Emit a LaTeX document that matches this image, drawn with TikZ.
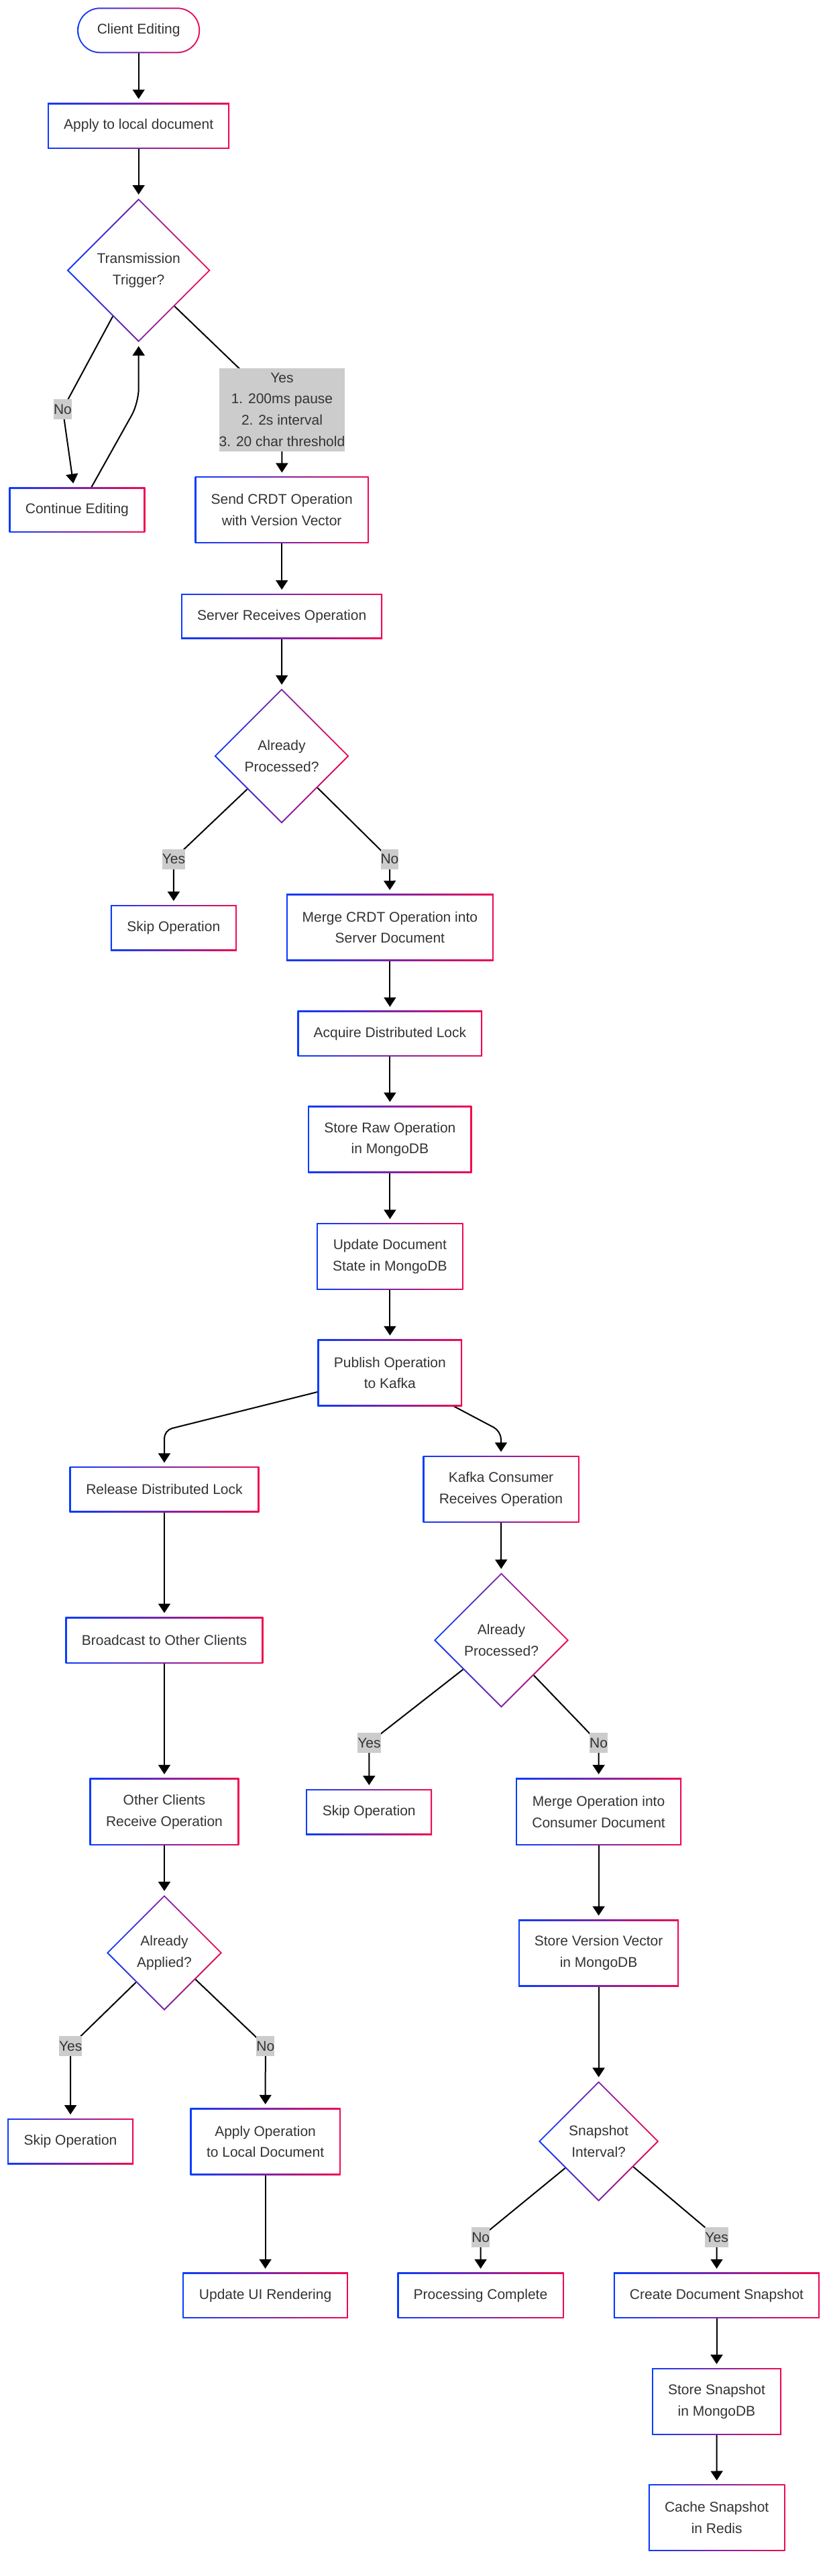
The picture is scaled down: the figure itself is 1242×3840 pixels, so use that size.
\documentclass[tikz,border=0pt]{standalone}
\usepackage{fontspec}
\setmainfont{Liberation Sans}
\usetikzlibrary{shapes.geometric,arrows.meta,calc}
\pgfdeclarelayer{bg}
\pgfsetlayers{bg,main}
\definecolor{gblue}{RGB}{10,60,255}
\definecolor{gred}{RGB}{240,10,80}
\definecolor{txt}{RGB}{51,51,51}
\definecolor{lblgray}{RGB}{204,204,204}
\newcommand\myfnt{\fontsize{10.5pt}{15.8pt}\selectfont}
\tikzset{
  gbase/.style={font=\myfnt, text=txt, align=center, inner sep=0pt, outer sep=0pt},
  sz/.style 2 args={minimum width=#1pt, minimum height=#2pt},
  gbox/.style={gbase, rectangle, path picture={
    \shade[left color=gblue,right color=gred] (path picture bounding box.south west) rectangle (path picture bounding box.north east);
    \fill[white] ([shift={(1pt,1pt)}]path picture bounding box.south west) rectangle ([shift={(-1pt,-1pt)}]path picture bounding box.north east);}},
  gpill/.style={gbase, rectangle, rounded corners=17pt, path picture={
    \shade[left color=gblue,right color=gred] (path picture bounding box.south west) rectangle (path picture bounding box.north east);
    \fill[white, rounded corners=16pt] ([shift={(1pt,1pt)}]path picture bounding box.south west) rectangle ([shift={(-1pt,-1pt)}]path picture bounding box.north east);}},
  gdia/.style={gbase, diamond, aspect=1, minimum size=#1pt, path picture={
    \shade[left color=gblue,right color=gred] (path picture bounding box.south west) rectangle (path picture bounding box.north east);
    \fill[white] ($(path picture bounding box.west)+(1.42pt,0)$) -- ($(path picture bounding box.north)+(0,-1.42pt)$) -- ($(path picture bounding box.east)+(-1.42pt,0)$) -- ($(path picture bounding box.south)+(0,1.42pt)$) -- cycle;}},
  lbl/.style={font=\myfnt, text=txt, fill=lblgray, inner xsep=0pt, inner ysep=0pt, minimum height=15pt, align=center},
  arr/.style={line width=1pt, -{Triangle[width=9pt,length=7pt]}, shorten >=3pt, line join=round},
}
\begin{document}
\begin{tikzpicture}[x=0.5pt,y=-0.5pt]
\useasboundingbox (0,0) rectangle (1242,3840);
% nodes
\node[gpill, sz={91.5}{34}] (start) at (206.7,45.3) {Client Editing};
\node[gbox, sz={135.5}{34}] (apply) at (206.7,187.5) {Apply to local document};
\node[gdia=107] (d1) at (206.7,403) {Transmission\\Trigger?};
\node[gbox, sz={101.4}{33.7}] (ce) at (114.9,760.2) {Continue Editing};
\node[lbl, minimum height=62pt] (lyes1) at (420.5,610.5) {Yes\\1. 200ms pause\\2. 2s interval\\3. 20 char threshold};
\node[lbl] (lno1) at (93.5,610) {No};
\node[gbox, sz={129.5}{49.75}] (send) at (420.2,760.2) {Send CRDT Operation\\with Version Vector};
\node[gbox, sz={150}{33.7}] (srv) at (420.2,918.7) {Server Receives Operation};
\node[gdia=100.5] (d2) at (420,1127) {Already\\Processed?};
\node[lbl] (lyes2) at (259,1280.5) {Yes};
\node[lbl] (lno2) at (581,1280.5) {No};
\node[gbox, sz={94}{34}] (skip1) at (258.8,1383) {Skip Operation};
\node[gbox, sz={154.5}{49.75}] (merge) at (581.4,1382.5) {Merge CRDT Operation into\\Server Document};
\node[gbox, sz={137.8}{34}] (lock) at (581.4,1540.8) {Acquire Distributed Lock};
\node[gbox, sz={122}{49.75}] (raw) at (581.4,1698.4) {Store Raw Operation\\in MongoDB};
\node[gbox, sz={109.3}{49.75}] (upd) at (581.4,1873) {Update Document\\State in MongoDB};
\node[gbox, sz={107.7}{49.75}] (pub) at (581.4,2046.5) {Publish Operation\\to Kafka};
\node[gbox, sz={141.4}{34}] (rel) at (245,2220.4) {Release Distributed Lock};
\node[gbox, sz={116.5}{49.75}] (kc) at (747,2220) {Kafka Consumer\\Receives Operation};
\node[gbox, sz={147.3}{34.5}] (bc) at (245,2445) {Broadcast to Other Clients};
\node[gdia=100.5] (d3) at (747.5,2445) {Already\\Processed?};
\node[lbl] (lyes3) at (550.4,2598) {Yes};
\node[lbl] (lno3) at (892.6,2598) {No};
\node[gbox, sz={111.3}{50}] (ocr) at (245,2700.8) {Other Clients\\Receive Operation};
\node[gbox, sz={94}{34}] (skip2) at (550.2,2701) {Skip Operation};
\node[gbox, sz={123.5}{50}] (mc) at (892.6,2700.8) {Merge Operation into\\Consumer Document};
\node[gbox, sz={119.5}{49.75}] (svv) at (892.6,2911.3) {Store Version Vector\\in MongoDB};
\node[gdia=86] (d4) at (245,2911) {Already\\Applied?};
\node[lbl] (lyes4) at (105.2,3050) {Yes};
\node[lbl] (lno4) at (395.8,3050) {No};
\node[gbox, sz={94}{34}] (skip3) at (105,3192) {Skip Operation};
\node[gbox, sz={112}{49.75}] (aol) at (395.6,3192.5) {Apply Operation\\to Local Document};
\node[gbox, sz={123.2}{34}] (ui) at (395.6,3421.8) {Update UI Rendering};
\node[gdia=89.6] (d5) at (892.6,3192) {Snapshot\\Interval?};
\node[lbl] (lno5) at (716.7,3335) {No};
\node[lbl] (lyes5) at (1068.6,3335) {Yes};
\node[gbox, sz={124}{34}] (pc) at (716.5,3421.8) {Processing Complete};
\node[gbox, sz={153.7}{34}] (cds) at (1068.5,3421.8) {Create Document Snapshot};
\node[gbox, sz={96.5}{49.75}] (ss) at (1068.5,3579.8) {Store Snapshot\\in MongoDB};
\node[gbox, sz={101.9}{49.75}] (cache) at (1068.7,3753.2) {Cache Snapshot\\in Redis};
\coordinate (bend1) at (206.7,600.5);
\coordinate (c1) at (245,2132);
\coordinate (c2) at (747,2133.5);
% connectors
\begin{pgfonlayer}{bg}
\fill[white] (0,0) rectangle (1242,3840);
\draw[arr] (start) -- (apply);
\draw[arr] (apply) -- (d1);
\draw[arr] ($(d1.south)!0.36!(d1.west)$) -- (lno1.center) -- (ce);
\draw[arr, rounded corners=10.5pt] ($(ce.north west)!0.605!(ce.north east)$) -- (bend1) -- (d1.south);
\draw[arr] (d1.south east) -- (lyes1.center) -- (send);
\draw[arr] (send) -- (srv);
\draw[arr] (srv) -- (d2);
\draw[arr] ($(d2.south)!0.51!(d2.west)$) -- (lyes2.center) -- (skip1);
\draw[arr] ($(d2.south)!0.53!(d2.east)$) -- (lno2.center) -- (merge);
\draw[arr] (merge) -- (lock);
\draw[arr] (lock) -- (raw);
\draw[arr] (raw) -- (upd);
\draw[arr] (upd) -- (pub);
\draw[arr, rounded corners=6pt] ($(pub.north west)!0.785!(pub.south west)$) -- (c1) -- (rel);
\draw[arr, rounded corners=6pt] ($(pub.south west)!0.942!(pub.south east)$) -- (c2) -- (kc);
\draw[arr] (rel) -- (bc);
\draw[arr] (bc) -- (ocr);
\draw[arr] (ocr) -- (d4);
\draw[arr] (kc) -- (d3);
\draw[arr] ($(d3.south)!0.567!(d3.west)$) -- (lyes3.center) -- (skip2);
\draw[arr] ($(d3.south)!0.48!(d3.east)$) -- (lno3.center) -- (mc);
\draw[arr] (mc) -- (svv);
\draw[arr] (svv) -- (d5);
\draw[arr] ($(d4.south)!0.49!(d4.west)$) -- (lyes4.center) -- (skip3);
\draw[arr] ($(d4.south)!0.54!(d4.east)$) -- (lno4.center) -- (aol);
\draw[arr] (aol) -- (ui);
\draw[arr] ($(d5.south)!0.556!(d5.west)$) -- (lno5.center) -- (pc);
\draw[arr] ($(d5.south)!0.576!(d5.east)$) -- (lyes5.center) -- (cds);
\draw[arr] (cds) -- (ss);
\draw[arr] (ss) -- (cache);
\end{pgfonlayer}
\end{tikzpicture}
\end{document}
